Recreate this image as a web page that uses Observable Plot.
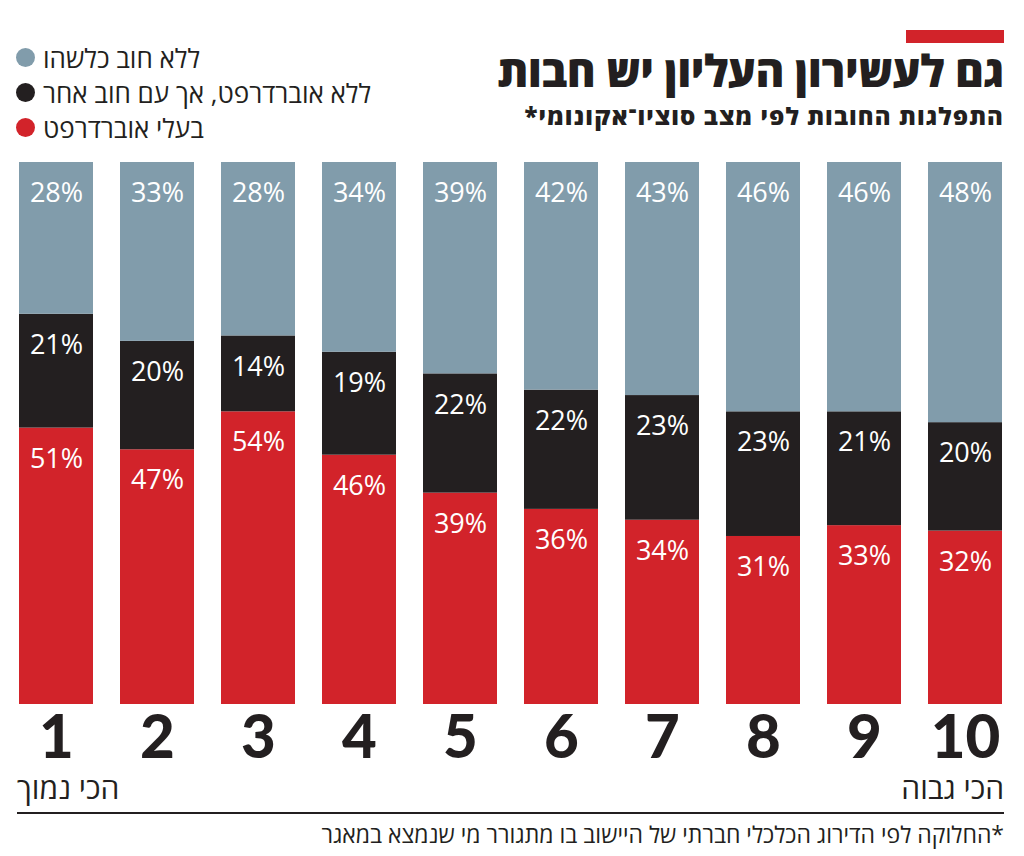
<!DOCTYPE html>
<html lang="he">
<head>
<meta charset="utf-8">
<script src="https://cdn.jsdelivr.net/npm/d3@7"></script>
<script src="https://cdn.jsdelivr.net/npm/@observablehq/plot@0.6"></script>
<style>
  html, body { margin: 0; padding: 0; background: #fff; }
  #wrap { position: relative; width: 1024px; height: 856px; overflow: hidden; font-family: "Open Sans", "Liberation Sans", "DejaVu Sans", sans-serif; color: #231f20; }
  #chart { position: absolute; left: 0; top: 0; }
  .abs { position: absolute; white-space: nowrap; }
  #redbar { left: 906px; top: 30px; width: 98px; height: 13px; background: #d2232a; }
  #title { right: 20px; top: 48px; font-size: 44px; font-weight: 800; direction: rtl; letter-spacing: -0.5px; line-height: 44px; }
  #subtitle { right: 20px; top: 104px; font-size: 24px; font-weight: 800; direction: rtl; line-height: 24px; letter-spacing: 1.1px; }
  #legend { left: 16px; top: 40px; }
  .lrow { display: flex; align-items: center; height: 35px; font-size: 26px; }
  .dot { width: 19px; height: 19px; border-radius: 50%; margin-right: 8px; flex: none; }
  .lrow span { direction: rtl; unicode-bidi: isolate; }
  #low { left: 17px; top: 767px; font-size: 30px; direction: rtl; }
  #high { right: 20px; top: 767px; font-size: 30px; direction: rtl; }
  #rule { left: 17px; top: 812px; width: 987px; height: 2px; background: #231f20; }
  #note { right: 20px; top: 819px; font-size: 23px; direction: rtl; line-height: 30px; }
</style>
</head>
<body>
<div id="wrap">
  <div id="chart"></div>
  <div class="abs" id="redbar"></div>
  <div class="abs" id="title"></div>
  <div class="abs" id="subtitle"></div>
  <div class="abs" id="legend"></div>
  <div class="abs" id="low"></div>
  <div class="abs" id="high"></div>
  <div class="abs" id="rule"></div>
  <div class="abs" id="note"></div>
</div>
<script>
// ---- data ----
const deciles = ["1", "2", "3", "4", "5", "6", "7", "8", "9", "10"];
const noDebt = [28, 33, 28, 34, 39, 42, 43, 46, 46, 48];          // ללא חוב כלשהו
const otherDebt = [21, 20, 14, 19, 22, 22, 23, 23, 21, 20];       // ללא אוברדרפט, אך עם חוב אחר
const overdraft = [51, 47, 54, 46, 39, 36, 34, 31, 33, 32];       // בעלי אוברדרפט
const seriesNames = ["ללא חוב כלשהו", "ללא אוברדרפט, אך עם חוב אחר", "בעלי אוברדרפט"];
const seriesColors = ["#819cab", "#231f20", "#d2232a"];
const titleText = "גם לעשירון העליון יש חבות";
const subtitleText = "התפלגות החובות לפי מצב סוציו־אקונומי*";
const lowText = "הכי נמוך";
const highText = "הכי גבוה";
const noteText = "*החלוקה לפי הדירוג הכלכלי חברתי של היישוב בו מתגורר מי שנמצא במאגר";

// ---- table: red at bottom, black above, gray fills the rest ----
const rows = [];
deciles.forEach((d, i) => {
  const r = overdraft[i], b = otherDebt[i], g = noDebt[i];
  rows.push({decile: d, series: seriesNames[2], y1: 0, y2: r, value: r});
  rows.push({decile: d, series: seriesNames[1], y1: r, y2: r + b, value: b});
  rows.push({decile: d, series: seriesNames[0], y1: r + b, y2: 100, value: g});
});

const labelFont = "'Open Sans', 'Liberation Sans', sans-serif";

const chart = Plot.plot({
  width: 1024,
  height: 856,
  marginTop: 162,
  marginBottom: 152,
  marginLeft: 17,
  marginRight: 20,
  style: {background: "transparent", fontFamily: labelFont},
  x: {domain: deciles, paddingInner: 0.265, paddingOuter: 0},
  y: {domain: [0, 100], axis: null},
  color: {domain: seriesNames, range: seriesColors},
  marks: [
    Plot.barY(rows, {x: "decile", y1: "y1", y2: "y2", fill: "series"}),
    Plot.text(rows, {
      x: "decile", y: "y2", text: d => d.value + "%",
      fill: "white", fontSize: 27, fontWeight: 500, dy: 31,
      lineAnchor: "middle", textAnchor: "middle", fontFamily: labelFont
    }),
    Plot.axisX({
      tickSize: 0, tickPadding: 11, label: null,
      fontSize: 60, fontWeight: 900, fill: "#231f20",
      fontFamily: "Lato, Inter, 'Open Sans', sans-serif"
    })
  ]
});
document.getElementById("chart").appendChild(chart);

document.getElementById("title").textContent = titleText;
document.getElementById("subtitle").textContent = subtitleText;
document.getElementById("low").textContent = lowText;
document.getElementById("high").textContent = highText;
document.getElementById("note").textContent = noteText;
const legend = document.getElementById("legend");
seriesNames.forEach((name, i) => {
  const row = document.createElement("div");
  row.className = "lrow";
  const dot = document.createElement("div");
  dot.className = "dot";
  dot.style.background = seriesColors[i];
  const span = document.createElement("span");
  span.textContent = name;
  row.appendChild(dot);
  row.appendChild(span);
  legend.appendChild(row);
});
</script>
</body>
</html>
